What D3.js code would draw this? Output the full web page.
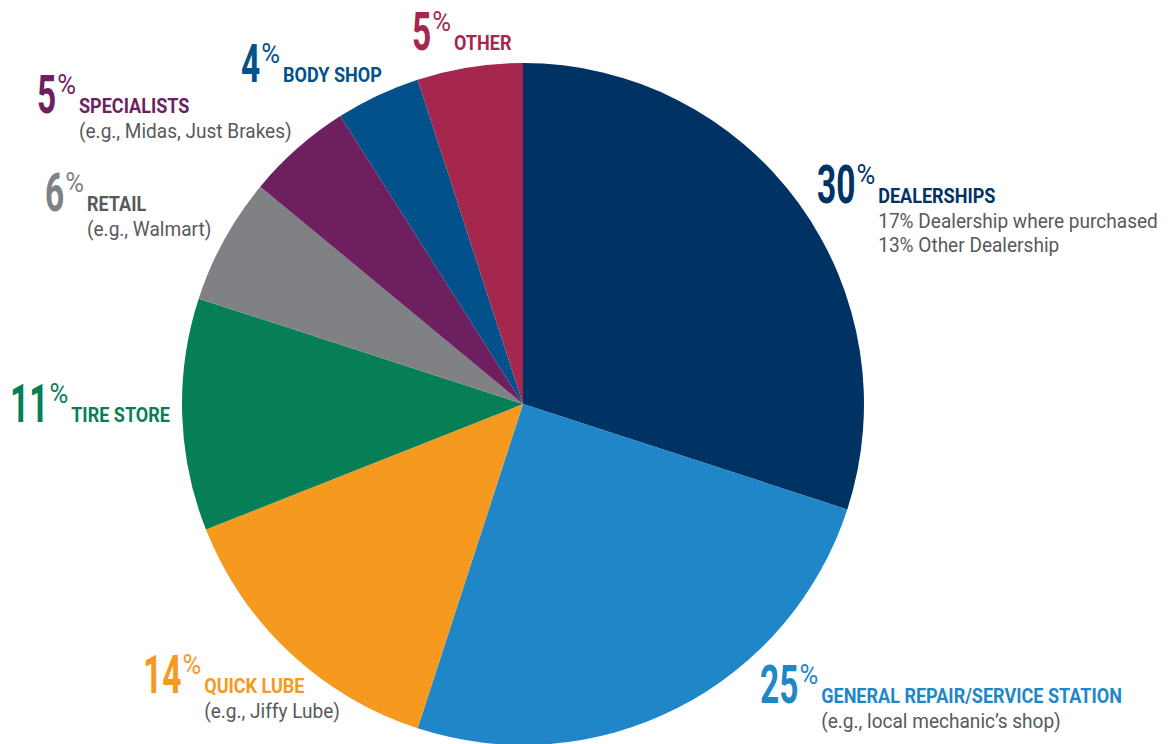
<!DOCTYPE html>
<html>
<head>
<meta charset="utf-8">
<script src="https://cdn.jsdelivr.net/npm/d3@7"></script>
<style>
  body { margin: 0; background: #fff; }
  svg { display: block; }
</style>
</head>
<body>
<div id="chart"></div>
<script>
const categories = ["DEALERSHIPS", "GENERAL REPAIR/SERVICE STATION", "QUICK LUBE", "TIRE STORE",
  "RETAIL", "SPECIALISTS", "BODY SHOP", "OTHER"];
const shares = [30, 25, 14, 11, 6, 5, 4, 5];
const notes = [
  ["17% Dealership where purchased", "13% Other Dealership"],
  ["(e.g., local mechanic\u2019s shop)"],
  ["(e.g., Jiffy Lube)"],
  [],
  ["(e.g., Walmart)"],
  ["(e.g., Midas, Just Brakes)"],
  [],
  []
];
const colors = ["#003263", "#1f86c8", "#f6991f", "#067f56", "#808184", "#6d1f5f", "#02518b", "#a5274d"];
const labelColors = ["#003263", "#1f86c8", "#f6991f", "#067f56", "#58595b", "#6d1f5f", "#02518b", "#a5274d"];
// where each label block starts (x, baseline of the big number)
const labelSpots = [[817, 203], [760, 703], [143, 693], [10, 422], [45, 211], [37, 113], [241, 82], [412, 50]];

const width = 1175, height = 744;
const cx = 523, cy = 404, radius = 341;

const svg = d3.select("#chart").append("svg")
  .attr("width", width)
  .attr("height", height);

const pie = d3.pie().sort(null).value(d => d)(shares);
const arc = d3.arc().innerRadius(0).outerRadius(radius);

svg.append("g")
  .attr("transform", `translate(${cx},${cy})`)
  .selectAll("path")
  .data(pie)
  .join("path")
  .attr("d", arc)
  .attr("fill", (d, i) => colors[i]);

const font = "Roboto, 'Liberation Sans', sans-serif";

// squeezed text, returns its drawn width
function squeezed(g, x, y, txt, size, weight, fill, sx) {
  const t = g.append("text")
    .attr("transform", `translate(${x},${y}) scale(${sx},1)`)
    .attr("font-family", font)
    .attr("font-size", size)
    .attr("font-weight", weight)
    .attr("fill", fill)
    .text(txt);
  return t.node().getComputedTextLength() * sx;
}

categories.forEach((name, i) => {
  const [x, y] = labelSpots[i];
  const g = svg.append("g").attr("transform", `translate(${x},${y})`);

  const numW = squeezed(g, 0, 0, shares[i], 54, 700, colors[i], 0.62);
  const pctW = squeezed(g, numW + 1, -19, "%", 27, 400, colors[i], 0.95);

  const lx = numW + pctW + 4;
  squeezed(g, lx, 0, name, 20.5, 700, labelColors[i], 0.88);

  notes[i].forEach((line, j) => {
    squeezed(g, lx, 25 + j * 24, line, 20.5, 400, "#58595b", 0.93);
  });
});
</script>
</body>
</html>
